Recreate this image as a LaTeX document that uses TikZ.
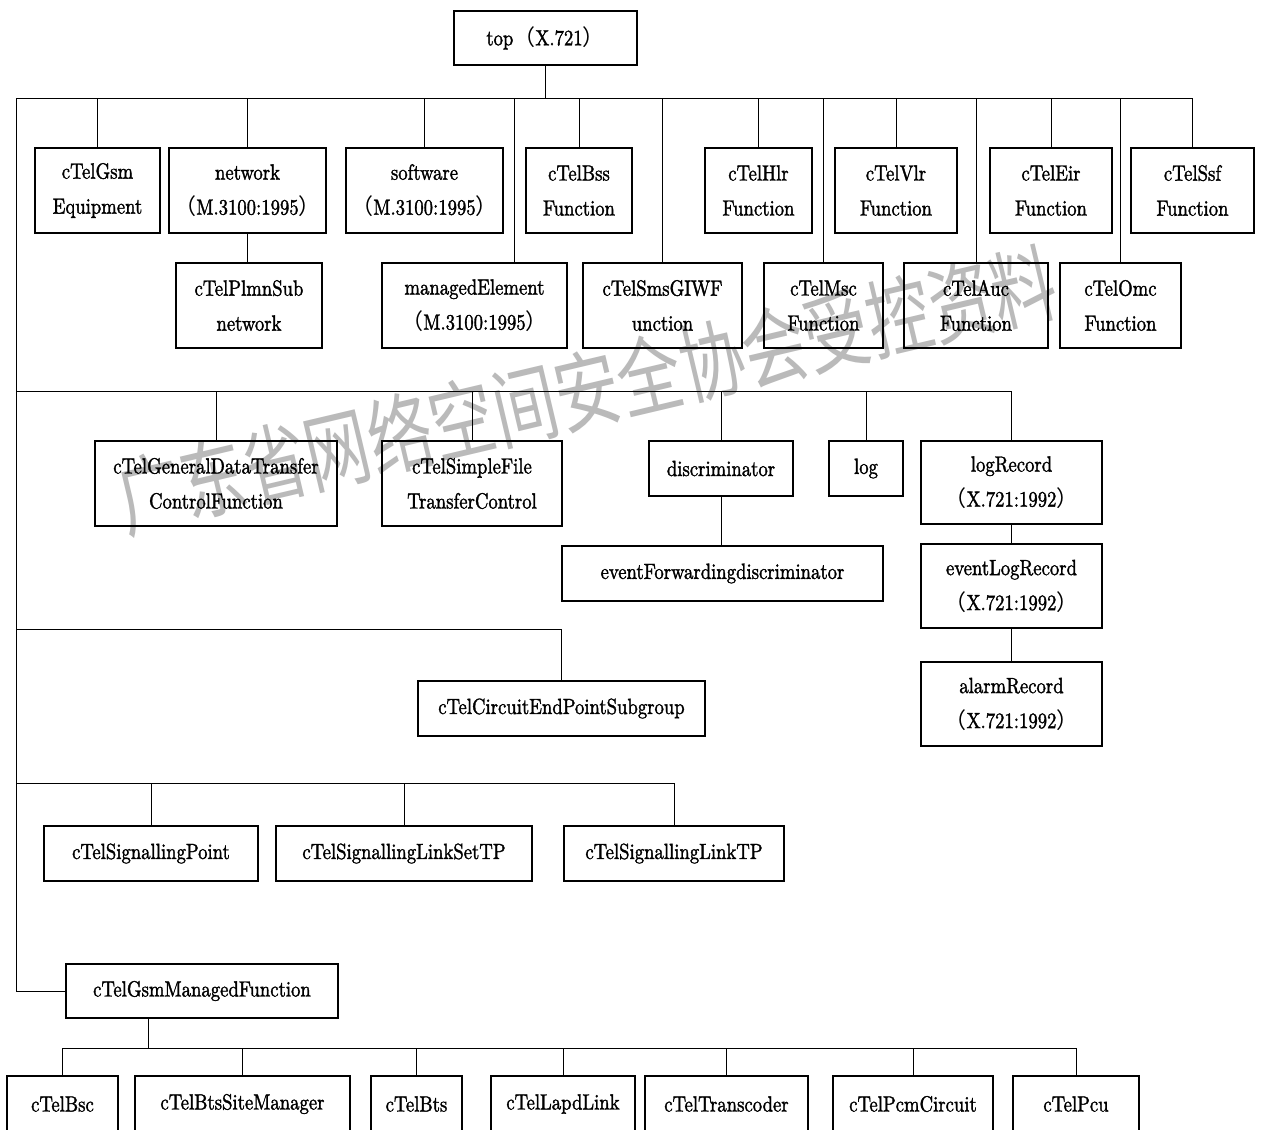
\documentclass[tikz,border=0pt]{standalone}
\usepackage{fontspec}
\setmainfont{lmroman10-regular.otf}[FakeStretch=0.85, FakeBold=1.5]
\newfontfamily\cjk{Noto Sans CJK SC}
\newcommand{\LP}{{\cjk （}}
\newcommand{\RP}{{\cjk ）}}
\tikzset{
  box/.style={draw, line width=1.1pt, inner sep=0pt, align=center,
              font=\fontsize{22}{35}\selectfont},
  conn/.style={line width=1pt},
  wmark/.style={text=black!27, inner sep=0pt, font=\cjk\fontsize{86}{86}\selectfont}
}
\newcommand{\bx}[6]{\node[box, minimum width={(#4-#2)*1pt}, minimum height={(#5-#3)*1pt}] (#1) at ({(#2+#4)/2},{(#3+#5)/2}) {#6};}
\begin{document}
\begin{tikzpicture}[x=1pt,y=-1pt]
\useasboundingbox (0,0) rectangle (1262,1130);
\clip (0,0) rectangle (1262,1130);
\fill[white] (0,0) rectangle (1262,1130);
% watermark (behind everything)
\node[wmark, rotate=13.3, xscale=0.745] (wm) at (587,390) {广东省网络空间安全协会受控资料};
% nodes
\bx{top}{454}{11}{637}{65}{top\LP X.721\RP}
\bx{gsmeq}{35}{148}{160}{233}{cTelGsm\\Equipment}
\bx{network}{169}{148}{326}{233}{network\\\LP M.3100:1995\RP}
\bx{software}{346}{148}{503}{233}{software\\\LP M.3100:1995\RP}
\bx{bss}{526}{148}{632}{233}{cTelBss\\Function}
\bx{hlr}{705}{148}{812}{233}{cTelHlr\\Function}
\bx{vlr}{835}{148}{957}{233}{cTelVlr\\Function}
\bx{eir}{990}{148}{1112}{233}{cTelEir\\Function}
\bx{ssf}{1131}{148}{1254}{233}{cTelSsf\\Function}
\bx{plmn}{176}{263}{322}{348}{cTelPlmnSub\\network}
\bx{managed}{382}{263}{567}{348}{managedElement\\\LP M.3100:1995\RP}
\bx{sms}{583}{263}{742}{348}{cTelSmsGIWF\\unction}
\bx{msc}{764}{263}{883}{348}{cTelMsc\\Function}
\bx{auc}{904}{263}{1048}{348}{cTelAuc\\Function}
\bx{omc}{1060}{263}{1181}{348}{cTelOmc\\Function}
\bx{gdt}{95}{441}{337}{526}{cTelGeneralDataTransfer\\ControlFunction}
\bx{sft}{382}{441}{562}{526}{cTelSimpleFile\\TransferControl}
\bx{disc}{649}{441}{793}{496}{discriminator}
\bx{log}{829}{441}{903}{496}{log}
\bx{logrec}{921}{441}{1102}{524}{logRecord\\\LP X.721:1992\RP}
\bx{efd}{562}{546}{883}{601}{eventForwardingdiscriminator}
\bx{evlog}{921}{544}{1102}{628}{eventLogRecord\\\LP X.721:1992\RP}
\bx{alarm}{921}{662}{1102}{746}{alarmRecord\\\LP X.721:1992\RP}
\bx{cep}{418}{681}{705}{736}{cTelCircuitEndPointSubgroup}
\bx{sp}{44}{826}{258}{881}{cTelSignallingPoint}
\bx{slst}{276}{826}{532}{881}{cTelSignallingLinkSetTP}
\bx{sl}{564}{826}{784}{881}{cTelSignallingLinkTP}
\bx{gmf}{66}{964}{338}{1018}{cTelGsmManagedFunction}
\bx{bsc}{7}{1076}{118}{1132}{cTelBsc}
\bx{btssm}{135}{1076}{350}{1132}{cTelBtsSiteManager}
\bx{bts}{371}{1076}{462}{1132}{cTelBts}
\bx{lapd}{491}{1076}{635}{1132}{cTelLapdLink}
\bx{trans}{645}{1076}{808}{1132}{cTelTranscoder}
\bx{pcm}{833}{1076}{993}{1132}{cTelPcmCircuit}
\bx{pcu}{1013}{1076}{1139}{1132}{cTelPcu}
% bus coordinates
\coordinate (b1l) at (16,98);
\coordinate (b2l) at (16,391);
\coordinate (b3l) at (16,629);
\coordinate (b4l) at (16,783);
\coordinate (b5) at (148,1048);
\coordinate (dme) at (514,98);
% connectors level 1
\draw[conn] (b1l) -- (ssf.north |- b1l) -- (ssf.north);
\draw[conn] (top.south) -- (top.south |- b1l);
\foreach \n in {gsmeq,network,software,bss,hlr,vlr,eir,sms,msc,auc,omc}
  \draw[conn] (\n.north) -- (\n.north |- b1l);
\draw[conn] (dme) -- (dme |- managed.north);
\draw[conn] (network.south) -- (network.south |- plmn.north);
\draw[conn] (b1l) |- (gmf.west);
% level 2
\draw[conn] (b2l) -- (logrec.north |- b2l) -- (logrec.north);
\foreach \n in {gdt,sft,disc,log}
  \draw[conn] (\n.north) -- (\n.north |- b2l);
\draw[conn] (disc.south) -- (disc.south |- efd.north);
\draw[conn] (logrec.south) -- (logrec.south |- evlog.north);
\draw[conn] (evlog.south) -- (evlog.south |- alarm.north);
% level 3
\draw[conn] (b3l) -| (cep.north);
% level 4
\draw[conn] (b4l) -| (sl.north);
\foreach \n in {sp,slst}
  \draw[conn] (\n.north) -- (\n.north |- b4l);
% level 5
\draw[conn] (gmf.south -| b5) -- (b5);
\draw[conn] (bsc.north |- b5) -- (pcu.north |- b5);
\foreach \n in {bsc,btssm,bts,lapd,trans,pcm,pcu}
  \draw[conn] (\n.north) -- (\n.north |- b5);
\end{tikzpicture}
\end{document}
